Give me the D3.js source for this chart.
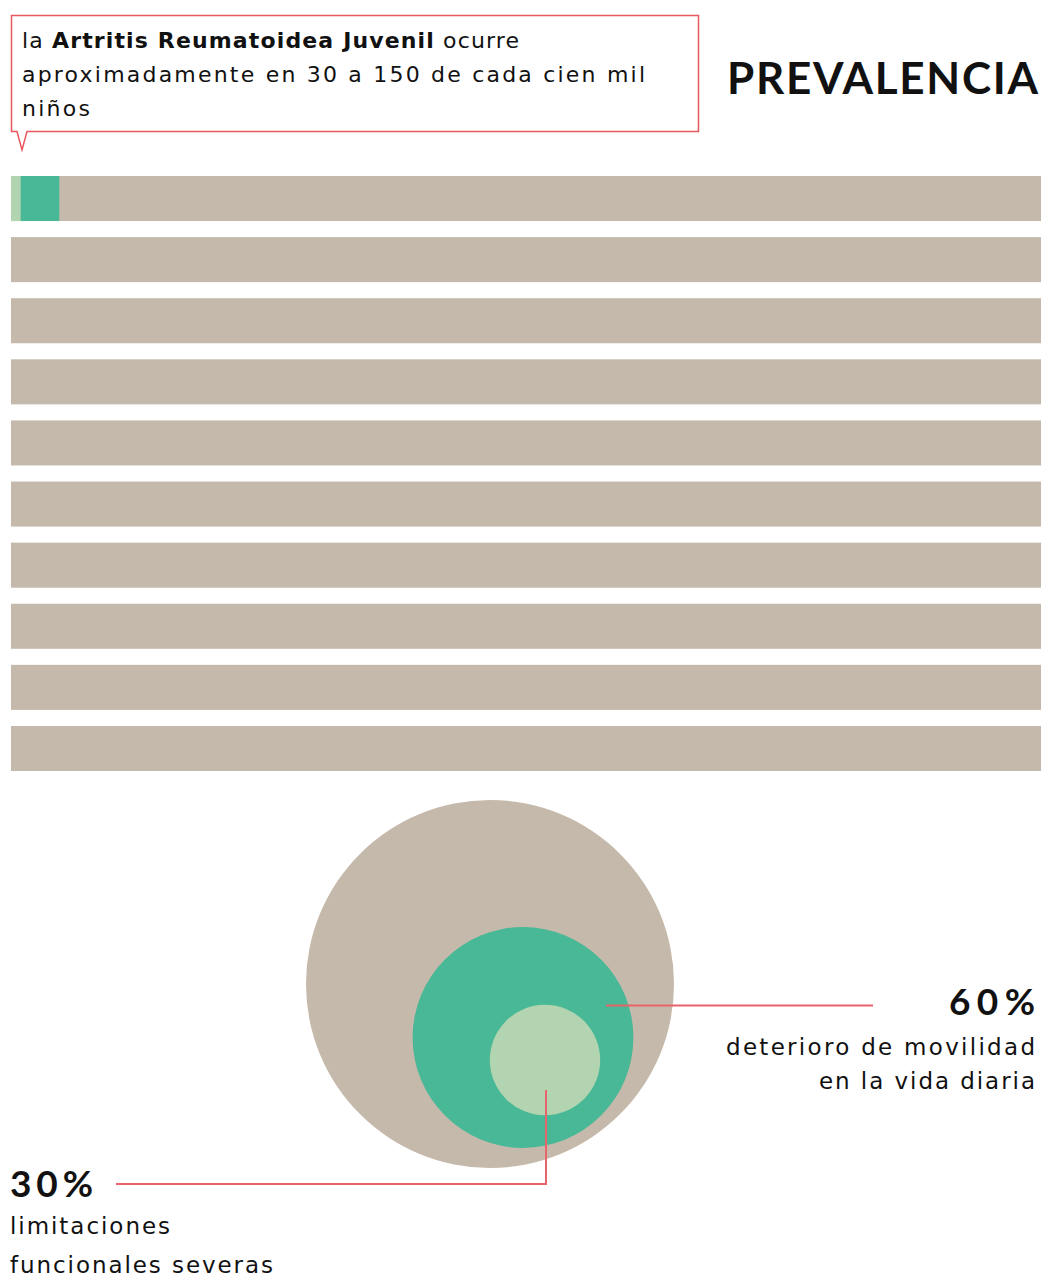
<!DOCTYPE html>
<html>
<head>
<meta charset="utf-8">
<script src="https://cdn.jsdelivr.net/npm/d3@7"></script>
<style>
  body { margin: 0; background: #fff; }
  svg { display: block; }
  text { font-family: "DejaVu Sans", Lato, sans-serif; fill: #111; }
  .head { font-family: Lato, "Open Sans", sans-serif; }
</style>
</head>
<body>
<svg id="chart" width="1042" height="1277"></svg>
<script>
// rows of the prevalence grid (each row one block of the population)
var rows = ["1", "2", "3", "4", "5", "6", "7", "8", "9", "10"];
// prevalence range, cases per hundred thousand
var prevLow = 30;
var prevHigh = 150;
var rowCapacity = 3200;

// nested circles, percent of patients
var circleLabels = ["total", "movilidad", "severas"];
var circlePct = [100, 60, 30];

var titleText = "PREVALENCIA";
var calloutLines = [
	[{t: "la ", b: false}, {t: "Artritis Reumatoidea Juvenil", b: true}, {t: " ocurre", b: false}],
	[{t: "aproximadamente en 30 a 150 de cada cien mil", b: false}],
	[{t: "niños", b: false}]
];
var note60 = ["60%", "deterioro de movilidad", "en la vida diaria"];
var note30 = ["30%", "limitaciones", "funcionales severas"];

var beige = "#c4b9aa",
	teal = "#48b896",
	mint = "#b3d4b0",
	red = "#e8646a";

var svg = d3.select("#chart");

// ---- bars
var x = d3.scaleLinear()
	.domain([0, rowCapacity])
	.range([11, 1041]);

var y = d3.scaleBand()
	.domain(rows)
	.range([176, 771])
	.paddingInner(0.263);

svg.append("g").selectAll("rect")
	.data(rows)
	.enter().append("rect")
	.attr("x", x(0))
	.attr("y", function(d) { return y(d); })
	.attr("width", x(rowCapacity) - x(0))
	.attr("height", y.bandwidth())
	.attr("fill", beige);

svg.append("rect")
	.attr("x", x(0))
	.attr("y", y(rows[0]))
	.attr("width", x(prevHigh) - x(0))
	.attr("height", y.bandwidth())
	.attr("fill", teal);
svg.append("rect")
	.attr("x", x(0))
	.attr("y", y(rows[0]))
	.attr("width", x(prevLow) - x(0))
	.attr("height", y.bandwidth())
	.attr("fill", mint);

// ---- callout box
var box = {l: 11.5, r: 698.5, t: 15.5, b: 131.5};
svg.append("path")
	.attr("d", "M" + box.l + "," + box.t + "H" + box.r + "V" + box.b +
		"H27L22,150L17," + box.b + "H" + box.l + "Z")
	.attr("fill", "#fff")
	.attr("stroke", "#e8585e")
	.attr("stroke-width", 1.5);

var lineLens = [497, 623, 68];
calloutLines.forEach(function(line, i) {
	var t = svg.append("text")
		.attr("x", 22)
		.attr("y", 48 + i * 34)
		.attr("font-size", 22)
		.attr("textLength", lineLens[i])
		.attr("lengthAdjust", "spacing");
	line.forEach(function(s) {
		t.append("tspan")
			.attr("font-weight", s.b ? 700 : 400)
			.text(s.t);
	});
});

svg.append("text")
	.attr("class", "head")
	.attr("x", 727)
	.attr("y", 94)
	.attr("font-size", 44)
	.attr("font-weight", 700)
	.attr("textLength", 311)
	.attr("lengthAdjust", "spacing")
	.text(titleText);

// ---- circles
var r = d3.scaleLinear().domain([0, 100]).range([0, 184]);
var centers = [[490, 984], [523, 1037.5], [545, 1060]];
var fills = [beige, teal, mint];

svg.append("g").selectAll("circle")
	.data(circlePct)
	.enter().append("circle")
	.attr("cx", function(d, i) { return centers[i][0]; })
	.attr("cy", function(d, i) { return centers[i][1]; })
	.attr("r", function(d) { return r(d); })
	.attr("fill", function(d, i) { return fills[i]; });

// leader lines
svg.append("path")
	.attr("d", "M606,1005.5H873")
	.attr("fill", "none")
	.attr("stroke", red)
	.attr("stroke-width", 2);
svg.append("path")
	.attr("d", "M546,1090V1184H116")
	.attr("fill", "none")
	.attr("stroke", red)
	.attr("stroke-width", 2);

// ---- notes
function note(lines, xx, anchor, ys, lens) {
	lines.forEach(function(s, i) {
		svg.append("text")
			.attr("class", i == 0 ? "head" : null)
			.attr("x", xx)
			.attr("y", ys[i])
			.attr("text-anchor", anchor)
			.attr("font-size", i == 0 ? 37 : 23)
			.attr("font-weight", i == 0 ? 700 : 400)
			.attr("textLength", lens[i])
			.attr("lengthAdjust", "spacing")
			.text(s);
	});
}
note(note60, 1035, "end", [1015, 1055, 1089], [86, 309, 216]);
note(note30, 10, "start", [1197, 1234, 1273], [83, 160, 263]);
</script>
</body>
</html>
